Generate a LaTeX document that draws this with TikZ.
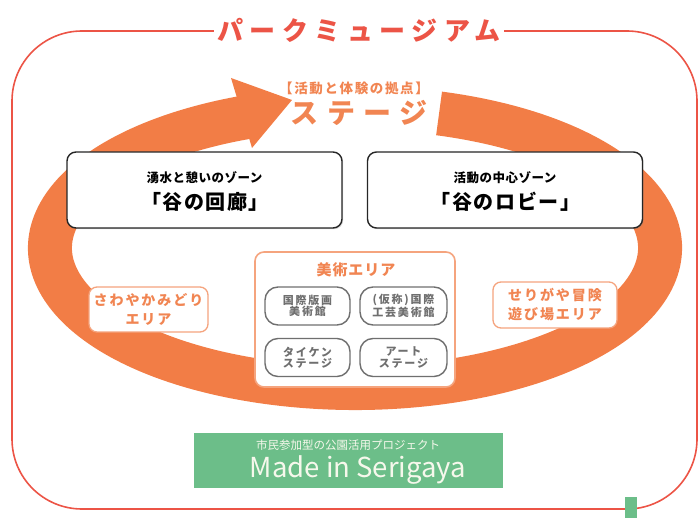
\documentclass[tikz,border=0pt]{standalone}
\usepackage{fontspec}
\setmainfont{Noto Sans CJK JP}
\usetikzlibrary{shadows}

\definecolor{parkred}{HTML}{EC5446}
\definecolor{looporange}{HTML}{F27D46}
\definecolor{textorange}{HTML}{F18552}
\definecolor{edgeorange}{HTML}{F5A47E}
\definecolor{parkgreen}{HTML}{6CBE89}
\definecolor{hallgray}{HTML}{6F6F6F}
\definecolor{cream}{HTML}{F6F8EC}

\newcommand{\jpsize}[2]{\fontsize{#1}{#2}\selectfont}

\begin{document}
\begin{tikzpicture}[x=1pt,y=-1pt,
		zone/.style={draw=black!85,line width=1.4pt,rounded corners=9pt,fill=white,minimum width=275pt,minimum height=76pt,drop shadow={shadow xshift=1.2pt,shadow yshift=-1.2pt,opacity=0.3}},
		area/.style={draw=edgeorange,line width=1.3pt,rounded corners=8pt,fill=white,text=textorange,align=center,inner sep=0pt,font=\jpsize{14}{19}\bfseries\addfontfeatures{LetterSpace=14}},
		hall/.style={draw=hallgray,line width=1.4pt,rounded corners=13pt,fill=white,text=hallgray,align=center,minimum width=85pt,minimum height=38pt,inner sep=0pt,font=\jpsize{11}{11.5}\bfseries\addfontfeatures{LetterSpace=16}}]
	% 画布大小
	\useasboundingbox (0,0) rectangle (699,518);
	% 外框与标题
	\draw[parkred,line width=1.6pt,rounded corners=70pt] (12,31) rectangle (697,509);
	\node[fill=white,inner xsep=3pt,inner ysep=0pt,text=parkred,font=\jpsize{26}{30}\bfseries\addfontfeatures{LetterSpace=25}] (title) at (359,30) {パークミュージアム};
	% 环形箭头
	\draw[looporange,line width=44pt] ([shift={(-74:305 and 140)}]355,248) arc[start angle=-74,end angle=250,x radius=305,y radius=140];
	\fill[looporange] (231,78) -- (292,100) -- (252,148) -- cycle;
	% 舞台
	\node[text=textorange,font=\jpsize{13.5}{15}\bfseries\addfontfeatures{LetterSpace=12}] (base) at (354,88) {【活動と体験の拠点】};
	\node[text=textorange,font=\jpsize{28}{32}\bfseries\addfontfeatures{LetterSpace=30}] (stage) at (359,113) {ステージ};
	% 两个区域
	\node[zone] (corridor) at (204.5,190) {};
	\node[font=\jpsize{12.5}{14}\bfseries\addfontfeatures{LetterSpace=4}] (corridorsub) at (204.5,178) {湧水と憩いのゾーン};
	\node[font=\jpsize{20}{24}\bfseries\addfontfeatures{LetterSpace=8}] (corridorname) at (205,202) {「谷の回廊」};
	\node[zone] (lobby) at (505,190) {};
	\node[font=\jpsize{12.5}{14}\bfseries\addfontfeatures{LetterSpace=4}] (lobbysub) at (505,178) {活動の中心ゾーン};
	\node[font=\jpsize{20}{24}\bfseries\addfontfeatures{LetterSpace=8}] (lobbyname) at (505.5,202) {「谷のロビー」};
	% 左右标签
	\node[area,minimum width=119pt,minimum height=45pt] (green) at (148.5,309.5) {さわやかみどり\\エリア};
	\node[area,minimum width=124pt,minimum height=46pt] (play) at (555,305) {せりがや冒険\\遊び場エリア};
	% 美术区
	\node[draw=edgeorange,line width=1.6pt,rounded corners=9pt,fill=white,minimum width=200pt,minimum height=135pt] (art) at (355,319.5) {};
	\node[text=textorange,font=\jpsize{15}{18}\bfseries\addfontfeatures{LetterSpace=6}] (arttitle) at (356,270) {美術エリア};
	\node[hall] (print) at (307.5,306) {国際版画\\美術館};
	\node[hall,minimum width=87pt] (craft) at (403.5,306) {(仮称)国際\\工芸美術館};
	\node[hall] (taiken) at (307.5,357.5) {タイケン\\ステージ};
	\node[hall,minimum width=87pt] (artstage) at (403.5,357.5) {アート\\ステージ};
	% 绿色标题
	\node[fill=parkgreen,minimum width=309pt,minimum height=55pt] (made) at (348.5,460.5) {};
	\node[text=cream,font=\jpsize{11.5}{13}] (madesub) at (348,445) {市民参加型の公園活用プロジェクト};
	\node[text=cream,font=\jpsize{27.5}{32}] (madename) at (358,470) {Made in Serigaya};
	\fill[parkgreen] (625,497) rectangle (637,518);
\end{tikzpicture}
\end{document}
